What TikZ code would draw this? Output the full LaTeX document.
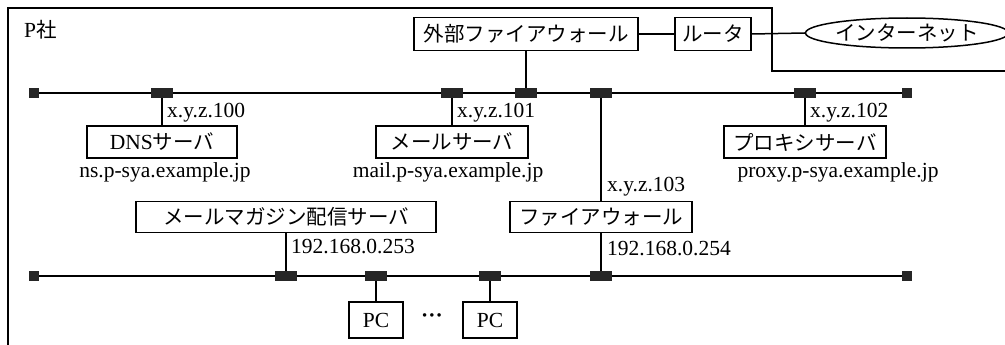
\documentclass[tikz,border=0pt]{standalone}
\usepackage{fontspec}
\setmainfont{Liberation Serif}
\newfontfamily\jpfam{Noto Sans CJK JP}
\usetikzlibrary{shapes.geometric}
\newcommand{\jtxt}[1]{{\jpfam\fontsize{20.5}{24}\selectfont #1}}
\newcommand{\latf}{\fontsize{21.5}{25}\selectfont}
\tikzset{
  box/.style={draw, line width=1.5pt, inner sep=0pt, minimum height=32pt, font=\latf},
  tap/.style={fill=black!85, inner sep=0pt, minimum width=22pt, minimum height=10pt},
  term/.style={fill=black!85, inner sep=0pt, minimum size=10pt},
  bus/.style={line width=2.8pt},
  wire/.style={line width=1.5pt},
  lbl/.style={inner sep=0pt, font=\latf},
}
\begin{document}
\begin{tikzpicture}[x=1pt,y=-1pt]
\useasboundingbox (0,0) rectangle (1005,345);
% frame
\draw[wire] (8,345) -- (8,8) -- (772,8) -- (772,71) -- (1005,71);
\node[lbl, anchor=west] (psha) at (24,30) {P\jtxt{社}};
% top
\node[box, minimum width=224pt, minimum height=33pt] (extfw) at (526,34) {\jtxt{外部ファイアウォール}};
\node[box, minimum width=76pt, minimum height=33pt] (router) at (713,34) {\jtxt{ルータ}};
\node[draw, line width=1.5pt, ellipse, inner sep=0pt, minimum width=183pt, minimum height=30pt] (inet) at (907,33) {\jtxt{インターネット}};
\draw[wire] (extfw.east) -- (router.west);
\draw[wire] (router.east) -- (inet.west);
% upper bus
\node[term] (ul) at (34,93) {};
\node[term] (ur) at (907,93) {};
\draw[bus] (ul) -- (ur);
\node[tap] (t1) at (162,93) {};
\node[tap] (t2) at (452,93) {};
\node[tap] (t3) at (526,93) {};
\node[tap] (t4) at (601,93) {};
\node[tap] (t5) at (805,93) {};
% servers
\node[box, minimum width=150pt] (dns) at (162,142) {DNS\jtxt{サーバ}};
\node[box, minimum width=152pt] (mail) at (452,142) {\jtxt{メールサーバ}};
\node[box, minimum width=162pt] (proxy) at (805,142) {\jtxt{プロキシサーバ}};
\draw[wire] (t1) -- (dns);
\draw[wire] (t2) -- (mail);
\draw[wire] (t5) -- (proxy);
\draw[wire] (t3) -- (extfw);
\node[lbl, anchor=west] (a1) at (167,113) {x.y.z.100};
\node[lbl, anchor=west] (a2) at (457,113) {x.y.z.101};
\node[lbl, anchor=west] (a3) at (810,113) {x.y.z.102};
\node[lbl] (n1) at (165,172) {ns.p-sya.example.jp};
\node[lbl] (n2) at (448,172) {mail.p-sya.example.jp};
\node[lbl] (n3) at (838,172) {proxy.p-sya.example.jp};
% middle
\node[box, minimum width=300pt, minimum height=31pt] (mag) at (286,217) {\jtxt{メールマガジン配信サーバ}};
\node[box, minimum width=182pt, minimum height=31pt] (fw) at (601,217) {\jtxt{ファイアウォール}};
\node[lbl, anchor=west] (a4) at (607,187) {x.y.z.103};
\node[lbl, anchor=west] (a5) at (291,247) {192.168.0.253};
\node[lbl, anchor=west] (a6) at (607,249) {192.168.0.254};
% lower bus
\node[term] (ll) at (34,276) {};
\node[term] (lr) at (907,276) {};
\draw[bus] (ll) -- (lr);
\node[tap] (b1) at (286,276) {};
\node[tap] (b2) at (376,276) {};
\node[tap] (b3) at (490,276) {};
\node[tap] (b4) at (601,276) {};
\draw[wire] (t4) -- (fw);
\draw[wire] (fw) -- (b4);
\draw[wire] (mag) -- (b1);
% PCs
\node[box, minimum width=54pt, minimum height=36pt] (pc1) at (376,320) {PC};
\node[box, minimum width=54pt, minimum height=36pt] (pc2) at (490,320) {PC};
\draw[wire] (b2) -- (pc1);
\draw[wire] (b3) -- (pc2);
\node[lbl, font=\latf\bfseries] (dots) at (432,318) {···};
\end{tikzpicture}
\end{document}
